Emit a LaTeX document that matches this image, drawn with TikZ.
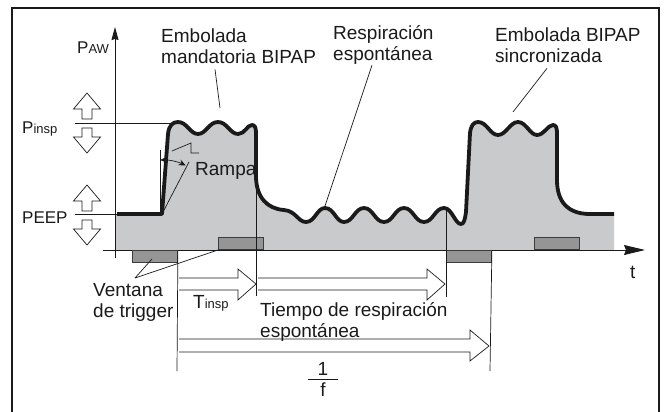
\documentclass[tikz,border=0pt]{standalone}
\usepackage{fontspec}
\setmainfont{Liberation Sans}
\usepackage{tikz}
\usetikzlibrary{arrows.meta,positioning,calc}
\definecolor{wavefill}{HTML}{C9CACC}
\definecolor{winfill}{HTML}{959595}
\definecolor{ink}{HTML}{1A1A1A}
\tikzset{
  lbl/.style={font=\fontsize{19}{21}\selectfont, align=left, inner sep=0pt, text=ink},
  axlbl/.style={font=\fontsize{17}{18}\selectfont, inner sep=0pt, text=ink},
  thinline/.style={draw=ink, line width=0.7pt},
  wave/.style={draw=ink, line width=3.8pt, line join=round},
  trigwin/.style={draw=ink!85, fill=winfill, line width=0.9pt,
    minimum width=45pt, minimum height=12pt, inner sep=0pt},
  widearrow/.style={draw=ink, line width=0.7pt, line join=miter},
  axis/.style={draw=ink, line width=0.9pt},
  updown/.style={draw=ink, line width=0.7pt, fill=white},
  uparr/.pic={\draw[updown] (-5,0) -- (-5,-10) -- (-13.5,-10) -- (0,-26)
    -- (13.5,-10) -- (5,-10) -- (5,0) -- cycle;},
  dnarr/.pic={\draw[updown] (-5,0) -- (-5,9) -- (-13.5,9) -- (0,25)
    -- (13.5,9) -- (5,9) -- (5,0) -- cycle;},
}
\newcommand{\sm}[1]{{\fontsize{13}{13}\selectfont #1}}
% pressure curve, left to right
\newcommand{\pawwave}{(117,214) -- (162,214) -- (168,134)
  .. controls (169,125) and (173,122) .. (178,122)
  .. controls (187,122) and (190,134) .. (198,134)
  .. controls (206,134) and (209,122) .. (218,122)
  .. controls (227,122) and (230,134) .. (238,134)
  .. controls (245,134) and (247,125) .. (252,125)
  .. controls (255,125) and (256,128) .. (256,133)
  -- (256,176)
  .. controls (256,198) and (268,209) .. (284,210)
  .. controls (296,211) and (298,222) .. (306,222)
  .. controls (315,222) and (317,208) .. (325,208)
  .. controls (334,208) and (336,222) .. (344,222)
  .. controls (353,222) and (355,208) .. (364,208)
  .. controls (373,208) and (375,222) .. (384,222)
  .. controls (393,222) and (395,208) .. (404,208)
  .. controls (413,208) and (415,222) .. (424,222)
  .. controls (433,222) and (435,208) .. (444,208)
  .. controls (452,208) and (455,224) .. (461,224)
  .. controls (464,224) and (465,219) .. (466,212)
  -- (470,133)
  .. controls (471,125) and (474,122) .. (478,122)
  .. controls (487,122) and (490,135) .. (498,135)
  .. controls (506,135) and (510,122) .. (518,122)
  .. controls (526,122) and (530,135) .. (537,135)
  .. controls (544,135) and (548,125) .. (553,125)
  .. controls (556,125) and (557,128) .. (557,133)
  -- (557,180)
  .. controls (557,202) and (568,214) .. (590,214)
  -- (614,214)}

\begin{document}
\begin{tikzpicture}[x=1pt, y=-1pt]
  \useasboundingbox (0,0) rectangle (670,412);

  % frame
  \draw[ink, line width=1.3pt] (12,412) -- (12,8) -- (659,8) -- (659,412);

  % grey area under the curve
  \fill[wavefill] (115,250) -- (115,214) -- \pawwave -- (614,250) -- cycle;

  % axes
  \coordinate (yfoot) at (115,258);
  \coordinate (ytop) at (115,27);
  \coordinate (xfoot) at (103,250);
  \coordinate (xend) at (645,250);
  \draw[axis, -{Stealth[length=13pt, width=7pt, inset=1pt]}] (yfoot) -- (ytop);
  \draw[axis, -{Stealth[length=21pt, width=10pt, inset=2pt]}] (xfoot) -- (xend);

  % trigger windows
  \node[trigwin, anchor=north west] (win1) at (132,250) {};
  \node[trigwin, anchor=south west] (win2) at (218,250) {};
  \node[trigwin, anchor=north west] (win3) at (446,250) {};
  \node[trigwin, anchor=south west] (win4) at (534,250) {};

  % time marks
  \draw[thinline] (win1.north east) -- (177,371);
  \draw[thinline] (256,140) -- (256,296);
  \draw[thinline] (446,208) -- (446,297);
  \draw[thinline] (win3.north east) -- (490,371);

  % levels
  \coordinate (pinsp) at (75,123);
  \coordinate (peep) at (75,214);
  \draw[thinline] (pinsp) -- (178,123);
  \draw[thinline] (peep) -- (117,214);
  \pic at (87,119) {uparr};
  \pic at (87,128) {dnarr};
  \pic at (87,211) {uparr};
  \pic at (87,220) {dnarr};

  % ramp
  \coordinate (rampfoot) at (162,214);
  \draw[thinline] (160,150) -- (160,214);
  \draw[thinline] (rampfoot) -- (189,162);

  % curve
  \draw[wave] \pawwave;

  \draw[thinline, {Stealth[length=7pt, width=6pt]}-{Stealth[length=7pt, width=6pt]}]
    (rampfoot) ++(-92:54) arc[start angle=-92, end angle=-64, radius=54];

  % labels
  \node[axlbl, anchor=north west] (paw) at (77,42) {P\sm{AW}};
  \node[axlbl, anchor=north west] (pinsplbl) at (22,122) {P\sm{insp}};
  \node[axlbl, anchor=north west] (peeplbl) at (22,212) {PEEP};
  \node[lbl, anchor=north west] (mand) at (161,29) {Embolada\\mandatoria BIPAP};
  \node[lbl, anchor=north west] (resp) at (333,25) {Respiración\\espontánea};
  \node[lbl, anchor=north west] (sync) at (495,28) {Embolada BIPAP\\sincronizada};
  \node[lbl, anchor=north west] (rampa) at (195,162) {Rampa};
  \node[lbl, anchor=north west] (tlbl) at (630,266) {t};
  \node[lbl, anchor=north west] (vent) at (93,283) {Ventana\\de trigger};
  \node[lbl, anchor=north west] (tinsp) at (193,295) {T\sm{insp}};
  \node[lbl, anchor=north west] (tesp) at (260,302) {Tiempo de respiración\\espontánea};
  \node[lbl] (one) at (323,369) {1};
  \node[lbl] (eff) at (323,390) {f};
  \draw[thinline] ([xshift=-15pt]one.south |- 0,379) -- ([xshift=15pt]one.south |- 0,379);

  % leaders
  \coordinate (mandtip) at (220,108);
  \coordinate (resptip) at (325,206);
  \coordinate (synctip) at (513,112);
  \coordinate (venttip) at (152,259);
  \coordinate (rampend) at ($(rampa.north west)+(4,-9)$);
  \draw[thinline] (mand.south west) ++(54,5) -- (mandtip);
  \draw[thinline] (resp.south west) ++(39,1) -- (resptip);
  \draw[thinline] (sync.south west) ++(52,5) -- (synctip);
  \draw[thinline] (vent.north west) ++(42,-5) coordinate (ventfork) -- (venttip);
  \draw[thinline] (ventfork) -- (win2.south west);
  \draw[thinline] (172,151) -- (191,143) -- (191,153) -- (rampend);

  % durations
  \draw[widearrow] (179,278) -- (238,278) -- (238,269) -- (256,284)
    -- (238,300) -- (238,290) -- (179,290);
  \draw[widearrow] (258,278) -- (427,278) -- (427,269) -- (445,284)
    -- (427,300) -- (427,290) -- (258,290);
  \draw[widearrow] (179,339) -- (470,339) -- (470,330) -- (489,346)
    -- (470,361) -- (470,352) -- (179,352);
\end{tikzpicture}
\end{document}
